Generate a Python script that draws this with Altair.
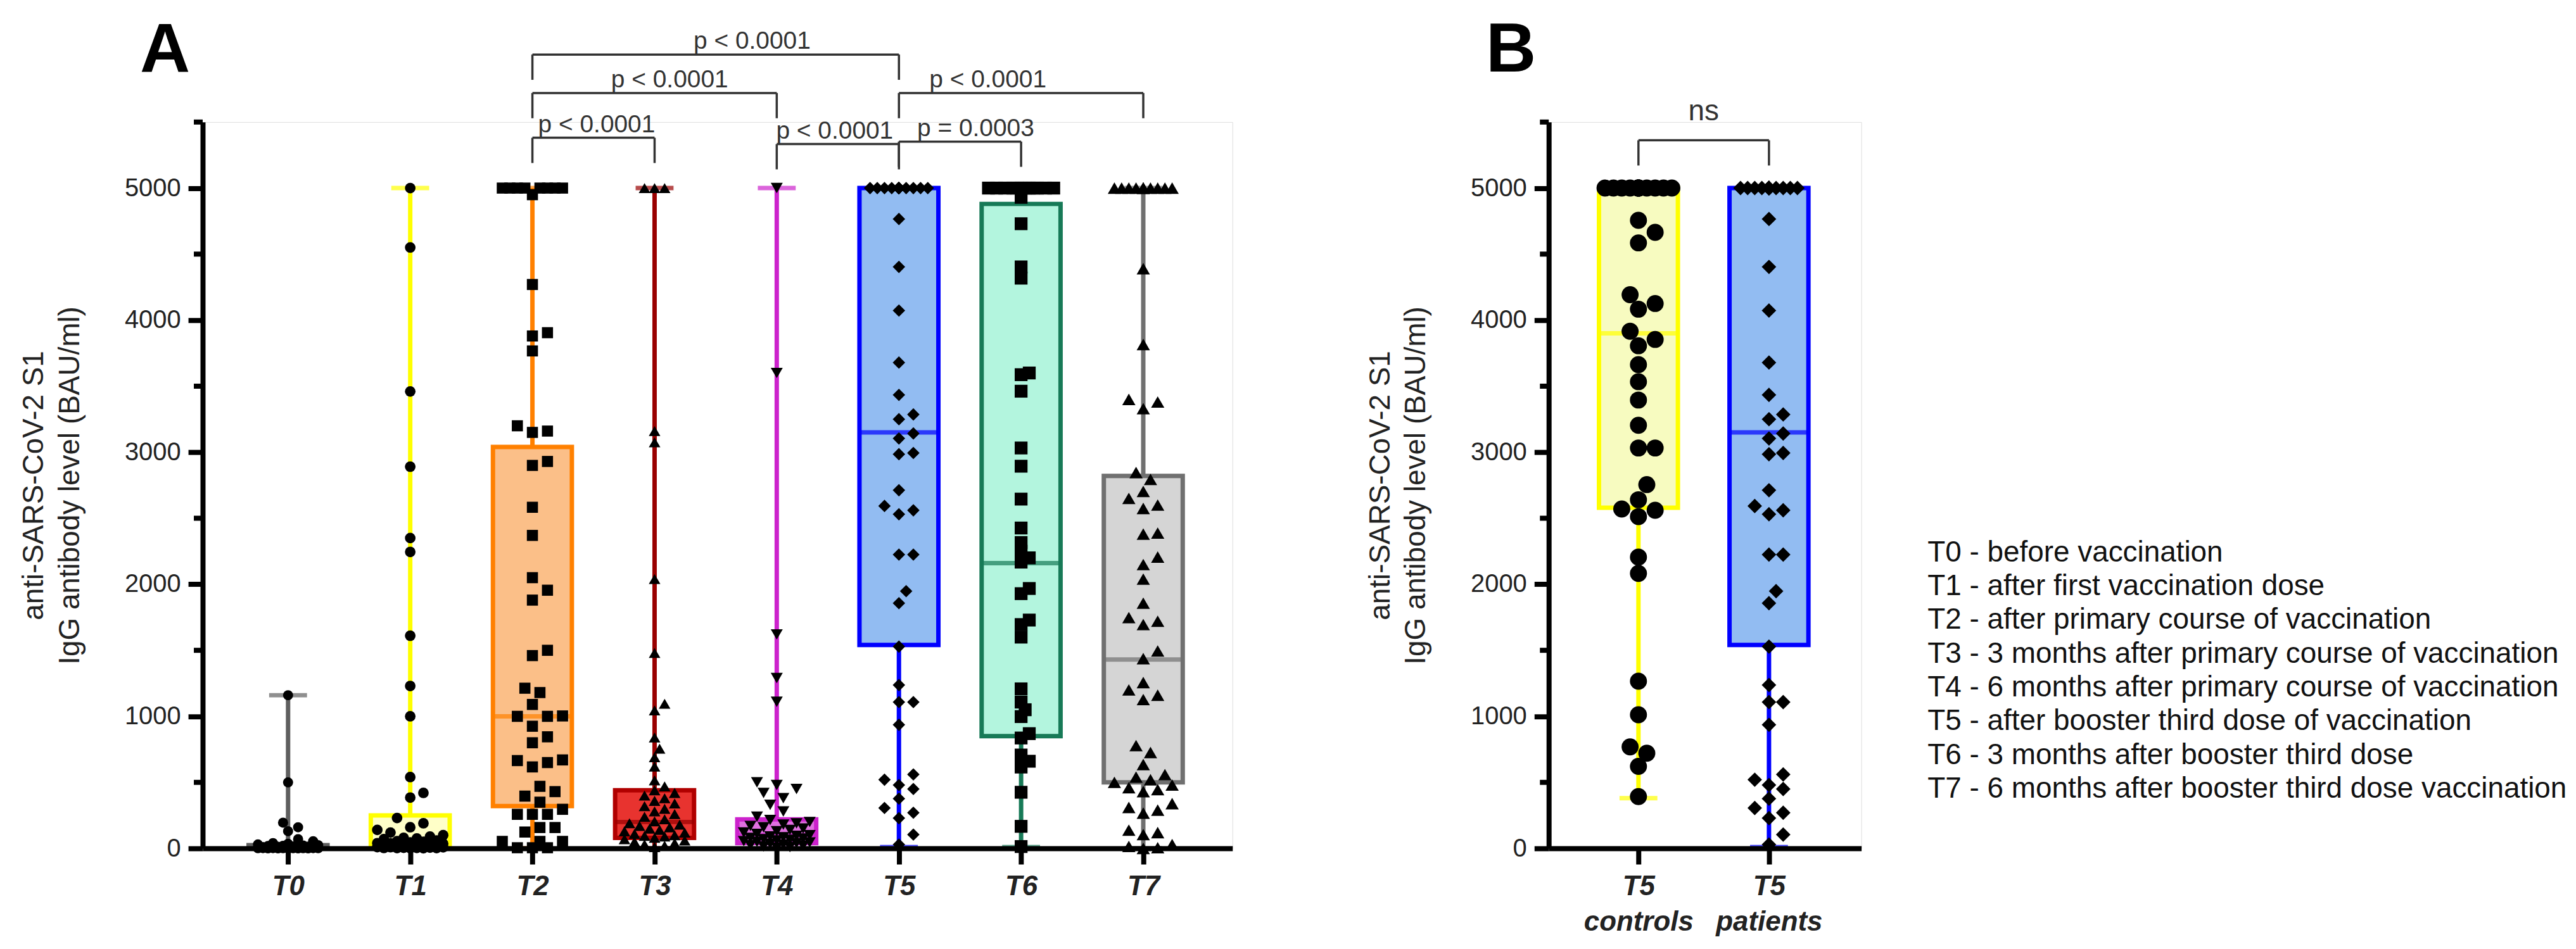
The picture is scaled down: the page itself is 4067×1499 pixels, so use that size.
import altair as alt
import pandas as pd

# ---------------- data ----------------
groups_a = ["T0", "T1", "T2", "T3", "T4", "T5", "T6", "T7"]

t0_vals = [1160, 500, 195, 160, 130, 70, 55, 40, 35, 30, 25, 22, 20, 18, 15, 14, 12, 10, 10, 9,
           8, 7, 6, 6, 5, 5, 4, 4, 3, 3, 3, 2, 2, 2, 2, 1, 1, 1, 1, 1, 0, 0, 0, 0, 0]
t1_vals = [5000, 4550, 3460, 2890, 2350, 2245, 1610, 1230, 1000, 540, 420, 385, 230, 190, 160,
           140, 120, 100, 90, 80, 75, 70, 60, 55, 50, 45, 40, 38, 35, 30, 28, 25, 22, 20, 18,
           15, 12, 10, 9, 8, 6, 5, 4, 3, 2, 2, 1, 1]
t2_vals = [5000, 5000, 5000, 5000, 5000, 5000, 5000, 5000, 4950, 4270, 3905, 3880, 3767, 3200,
           3160, 3150, 2930, 2900, 2583, 2370, 2050, 1955, 1880, 1500, 1460, 1213, 1180, 1090,
           1003, 1000, 1000, 925, 845, 800, 670, 665, 650, 617, 470, 430, 396, 350, 296, 258,
           258, 258, 158, 158, 124, 53, 53, 53, 5, 5, 5]
t3_vals = [5000, 5000, 5000, 3160, 3075, 2040, 1480, 1095, 1045, 840, 755, 690, 620, 515, 470,
           440, 420, 400, 380, 360, 340, 320, 300, 280, 260, 240, 220, 205, 190, 180, 170, 160,
           150, 140, 130, 120, 110, 100, 95, 90, 80, 70, 60, 50, 40, 30, 20, 10]
t4_vals = [5000, 3600, 1620, 1290, 1110, 500, 480, 450, 420, 380, 330, 280, 240, 215, 200, 190,
           180, 170, 160, 150, 140, 130, 120, 110, 100, 95, 90, 85, 80, 75, 70, 65, 60, 55, 50,
           45, 40, 35, 30, 25, 20, 15, 10, 5]
t5_vals = [5000] * 20 + [4766, 4403, 4073, 3679, 3434, 3286, 3250, 3142, 3104, 2994, 2985, 2712,
                         2593, 2560, 2530, 2225, 2225, 1948, 1857, 1528, 1237, 1108, 1108, 936,
                         560, 520, 480, 450, 377, 306, 270, 229, 105, 29]
t6_vals = [5000] * 12 + [4930, 4730, 4403, 4318, 3600, 3587, 3462, 3032, 2894, 2645, 2426, 2316,
                         2250, 2200, 2168, 1968, 1929, 1729, 1695, 1600, 1208, 1108, 1050, 998,
                         869, 836, 707, 660, 616, 425, 167, 14]
t7_vals = [5000] * 12 + [4390, 3816, 3400, 3380, 3330, 2846, 2794, 2703, 2650, 2600, 2574, 2388,
                         2380, 2206, 2149, 2039, 1857, 1748, 1720, 1695, 1495, 1437, 1256, 1200,
                         1160, 1127, 778, 726, 635, 559, 540, 520, 500, 480, 460, 445, 430, 339,
                         310, 290, 267, 138, 120, 105, 29, 15, 5, 0]
vals_a = [t0_vals, t1_vals, t2_vals, t3_vals, t4_vals, t5_vals, t6_vals, t7_vals]

min_a = [0, 0, 0, 0, 0, 10, 10, 0]
q1_a = [2, 10, 320, 80, 40, 1540, 850, 500]
med_a = [6, 40, 1000, 200, 100, 3150, 2160, 1430]
q3_a = [25, 250, 3040, 440, 220, 5000, 4880, 2820]
max_a = [1160, 5000, 5000, 5000, 5000, 5000, 5000, 5000]

groups_b = ["T5 controls", "T5 patients"]
ctrl_vals = [5000] * 14 + [4756, 4665, 4585, 4193, 4126, 4083, 3916, 3854, 3806, 3663, 3534,
                           3395, 3204, 3032, 3032, 2755, 2640, 2570, 2560, 2512, 2206, 2082,
                           1266, 1012, 769, 721, 621, 392]
vals_b = [ctrl_vals, t5_vals]
min_b = [380, 10]
q1_b = [2580, 1540]
med_b = [3900, 3150]
q3_b = [5000, 5000]
max_b = [5000, 5000]
xlab_b = [["T5", "controls"], ["T5", "patients"]]

# comparisons: (from index, to index, bracket level in BAU/ml, label)
brackets_a = [(2, 5, 6011, "p < 0.0001"), (2, 4, 5720, "p < 0.0001"),
              (2, 3, 5381, "p < 0.0001"), (4, 5, 5333, "p < 0.0001"),
              (5, 7, 5720, "p < 0.0001"), (5, 6, 5352, "p = 0.0003")]
brackets_b = [(0, 1, 5362, "ns")]

y_ticks = [0, 1000, 2000, 3000, 4000, 5000]
y_minor = [500, 1500, 2500, 3500, 4500, 5500]

legend_lines = ["T0 - before vaccination",
                "T1 - after first vaccination dose",
                "T2 - after primary course of vaccination",
                "T3 - 3 months after primary course of vaccination",
                "T4 - 6 months after primary course of vaccination",
                "T5 - after booster third dose of vaccination",
                "T6 - 3 months after booster third dose",
                "T7 - 6 months after booster third dose vaccination"]
y_title = ["anti-SARS-CoV-2 S1", "IgG antibody level (BAU/ml)"]

# ---------------- styles ----------------
fill_a = ["#9a9a9a", "#ffffc8", "#fbbf88", "#e8332f", "#e070e0", "#92bcf2", "#b3f5de", "#d5d5d5"]
stroke_a = ["#5f5f5f", "#ffff00", "#ff8000", "#b00000", "#cc22cc", "#0000ff", "#177a57", "#707070"]
whisk_a = ["#5f5f5f", "#ffff00", "#ff8000", "#990000", "#cc22cc", "#0000ff", "#177a57", "#707070"]
shape_a = ["circle", "circle", "square", "triangle-up", "triangle-down", "diamond", "square", "triangle-up"]
size_a = [256, 441, 576, 256, 441, 529, 169, 529]
diam_a = [16, 21, 24, 16, 21, 23, 13, 23]
label_dx_a = [58, 24, 5, -5, -53, 25]

fill_b = ["#f7fbc0", "#92bcf2"]
stroke_b = ["#ffff00", "#0000ff"]
shape_b = ["circle", "diamond"]
size_b = [729, 529]
diam_b = [27, 23]
label_dx_b = [0]

FONT = "Liberation Sans"
NARROW = "Liberation Sans Narrow, Liberation Sans"
H = 1151
W_A, W_B = 1631, 495
YMAX = 5500
PPU = H / YMAX
XDOM_A = [-0.673, 7.704]
XDOM_B = [-0.663, 1.683]
STEP_A = W_A / (XDOM_A[1] - XDOM_A[0])
STEP_B = W_B / (XDOM_B[1] - XDOM_B[0])
LEG = 40 / PPU


def swarm(vals, diam, max_half):
    """simple beeswarm: pixel offsets for the points of one column"""
    order = sorted(range(len(vals)), key=lambda i: vals[i])
    step = diam * 0.5
    cands = [0.0]
    k = 1
    while k * step <= max_half:
        cands += [k * step, -k * step]
        k += 1
    min_d = diam * 0.9
    placed = []
    offs = [0.0] * len(vals)
    for i in order:
        y = vals[i] * PPU
        near = [(px, py) for px, py in placed if abs(py - y) < min_d]
        chosen, best_c, best_s = None, 0.0, -1.0
        for c in cands:
            dmin = min([((c - px) ** 2 + (y - py) ** 2) ** 0.5 for px, py in near], default=1e9)
            if dmin >= min_d:
                chosen = c
                break
            if dmin > best_s:
                best_s, best_c = dmin, c
        if chosen is None:
            chosen = best_c
        placed.append((chosen, y))
        offs[i] = chosen
    return offs


def build_points(groups, vals, diams, step):
    rows = []
    for gi, (g, v) in enumerate(zip(groups, vals)):
        offs = swarm(v, diams[gi], 55)
        for val, o in zip(v, offs):
            rows.append({"grp": g, "x": gi + o / step, "v": val})
    return pd.DataFrame(rows)


def build_stats(groups, mn, q1, md, q3, mx):
    return pd.DataFrame({"grp": groups, "x": list(range(len(groups))), "mn": mn, "q1": q1,
                         "md": md, "q3": q3, "mx": mx})


def build_brackets(br, dxs, step):
    rows, labels = [], []
    for (a, b, lvl, lbl), dx in zip(br, dxs):
        rows.append({"x": a, "x2": b, "y": lvl, "y2": lvl})
        rows.append({"x": a, "x2": a, "y": lvl, "y2": lvl - LEG})
        rows.append({"x": b, "x2": b, "y": lvl, "y2": lvl - LEG})
        labels.append({"x": (a + b) / 2 + dx / step, "y": lvl, "lbl": lbl})
    return pd.DataFrame(rows), pd.DataFrame(labels)


def panel(groups, vals, mn, q1, md, q3, mx, fills, strokes, whisks, shapes, sizes, diams,
          xdom, width, step, x_axis, brackets, label_dx, letter, label_size, label_dy,
          extra=None):
    yscale = alt.Scale(domain=[0, YMAX], nice=False, zero=False)
    xscale = alt.Scale(domain=xdom, nice=False, zero=False)
    y_axis = alt.Axis(values=y_ticks, format="d", title=y_title, titleFont=FONT,
                      titleFontSize=46, titleFontWeight="normal", titleLineHeight=57,
                      titleColor="#222", titlePadding=62, labelFont=FONT, labelFontSize=40,
                      labelColor="#222", labelPadding=12, tickSize=23, tickWidth=8,
                      tickColor="black", domainWidth=8, domainColor="black", grid=False,
                      zindex=1)

    def X(f):
        return alt.X(f, type="quantitative", scale=xscale, axis=x_axis)

    def Y(f):
        return alt.Y(f, type="quantitative", scale=yscale, axis=y_axis)

    stats = build_stats(groups, mn, q1, md, q3, mx)
    pts = build_points(groups, vals, diams, step)
    gdom = alt.Scale(domain=groups, range=whisks)
    base = alt.Chart(stats)

    whisker = base.mark_rule(strokeWidth=7).encode(
        x=X("x"), y=Y("mn"), y2="mx",
        color=alt.Color("grp:N", scale=gdom, legend=None))
    box = base.mark_bar(size=125, strokeWidth=7).encode(
        x=X("x"), y=Y("q1"), y2="q3",
        fill=alt.Fill("grp:N", scale=alt.Scale(domain=groups, range=fills), legend=None),
        stroke=alt.Stroke("grp:N", scale=alt.Scale(domain=groups, range=strokes), legend=None))
    median = base.mark_tick(size=125, thickness=7, orient="horizontal").encode(
        x=X("x"), y=Y("md"),
        color=alt.Color("grp:N", scale=alt.Scale(domain=groups, range=strokes), legend=None))
    cap_hi = base.mark_tick(size=60, thickness=7, orient="horizontal").encode(
        x=X("x"), y=Y("mx"), color=alt.Color("grp:N", scale=gdom, legend=None))
    cap_lo = base.mark_tick(size=60, thickness=7, orient="horizontal").encode(
        x=X("x"), y=Y("mn"), color=alt.Color("grp:N", scale=gdom, legend=None))
    points = alt.Chart(pts).mark_point(filled=True, color="black", opacity=1).encode(
        x=X("x"), y=Y("v"),
        shape=alt.Shape("grp:N", scale=alt.Scale(domain=groups, range=shapes), legend=None),
        size=alt.Size("grp:N", scale=alt.Scale(domain=groups, range=sizes), legend=None))
    minor = alt.Chart(pd.DataFrame({"v": y_minor})).mark_rule(
        color="black", strokeWidth=8).encode(
        y=Y("v"), x=alt.value(-14), x2=alt.value(0))

    br_rows, br_lbl = build_brackets(brackets, label_dx, step)
    br_lines = alt.Chart(br_rows).mark_rule(color="#333", strokeWidth=3.5).encode(
        x=X("x"), x2="x2", y=Y("y"), y2="y2")
    br_text = alt.Chart(br_lbl).mark_text(font=FONT, fontSize=label_size, color="#333",
                                          baseline="alphabetic", dy=label_dy).encode(
        x=X("x"), y=Y("y"), text="lbl:N")
    let = alt.Chart(pd.DataFrame({"t": [letter]})).mark_text(
        font=FONT, fontSize=110, fontWeight="bold", color="black", align="right",
        baseline="alphabetic").encode(
        text="t:N", x=alt.value(-20), y=alt.value(-80))

    layers = [whisker, box, median, cap_hi, cap_lo, points, minor, br_lines, br_text, let]
    if extra is not None:
        layers.append(extra)
    return alt.layer(*layers).properties(width=width, height=H)


label_expr_a = "[" + ",".join("'%s'" % g for g in groups_a) + "][round(datum.value)]"
x_axis_a = alt.Axis(values=list(range(len(groups_a))), labelExpr=label_expr_a, title=None,
                    labelFont=NARROW, labelFontSize=44, labelFontStyle="italic",
                    labelFontWeight="bold", labelColor="#222", labelPadding=14,
                    tickSize=25, tickWidth=8, tickColor="black", domainWidth=8,
                    domainColor="black", grid=False, zindex=1)
label_expr_b = "[" + ",".join("['%s','%s']" % (a, b) for a, b in xlab_b) + "][round(datum.value)]"
x_axis_b = alt.Axis(values=list(range(len(groups_b))), labelExpr=label_expr_b, title=None,
                    labelFont=NARROW, labelFontSize=44, labelFontStyle="italic",
                    labelFontWeight="bold", labelColor="#222", labelPadding=14,
                    labelLineHeight=56, tickSize=25, tickWidth=8, tickColor="black",
                    domainWidth=8, domainColor="black", grid=False, zindex=1)

legend = alt.Chart(pd.DataFrame({"k": [0]})).mark_text(
    font=FONT, fontSize=46, color="#111", align="left", baseline="top",
    lineHeight=53.5).encode(
    text=alt.value(legend_lines), x=alt.value(600), y=alt.value(660))

panel_a = panel(groups_a, vals_a, min_a, q1_a, med_a, q3_a, max_a, fill_a, stroke_a, whisk_a,
                shape_a, size_a, diam_a, XDOM_A, W_A, STEP_A, x_axis_a, brackets_a, label_dx_a,
                "A", 39, -9)
panel_b = panel(groups_b, vals_b, min_b, q1_b, med_b, q3_b, max_b, fill_b, stroke_b, stroke_b,
                shape_b, size_b, diam_b, XDOM_B, W_B, STEP_B, x_axis_b, brackets_b, label_dx_b,
                "B", 46, -32, extra=legend)

chart = alt.hconcat(panel_a, panel_b, spacing=209).resolve_scale(
    color="independent", fill="independent", stroke="independent",
    shape="independent", size="independent"
).properties(
    padding={"left": 22, "top": 14, "right": 5, "bottom": 5}
).configure_view(stroke=None).configure(background="white")

chart.save("out.html", embed_options={"renderer": "svg", "actions": False})
